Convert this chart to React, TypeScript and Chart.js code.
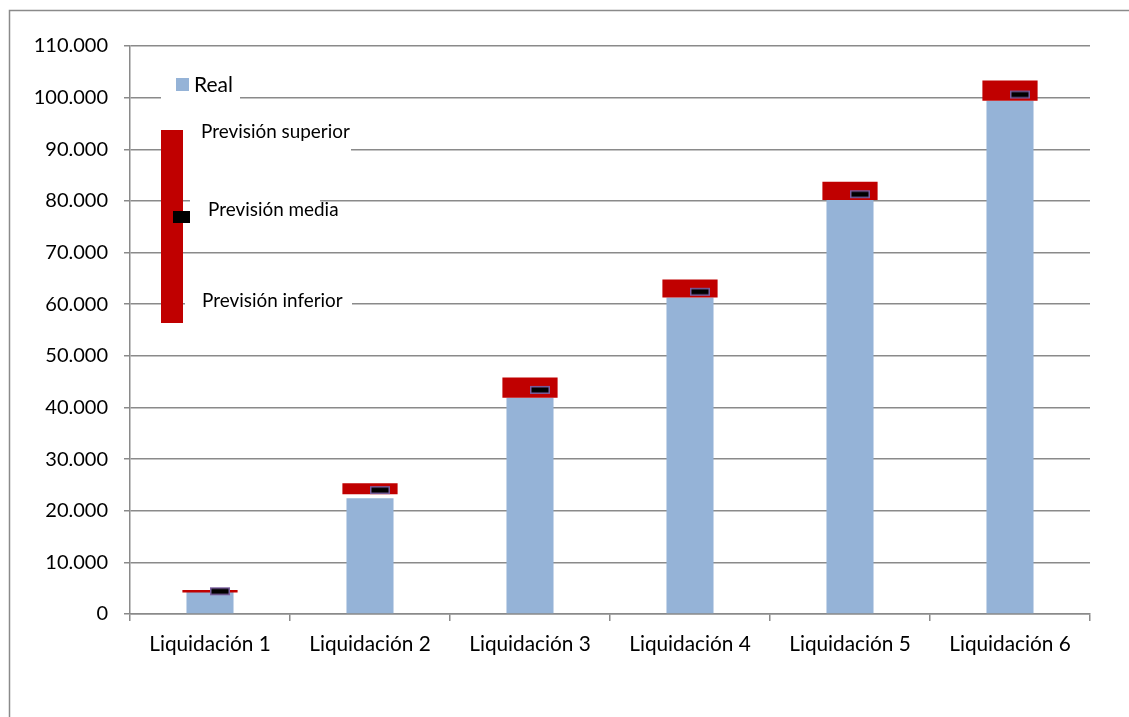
import React, { useEffect, useRef } from "react";
import { Chart, registerables } from "chart.js";

Chart.register(...registerables);

const categories = ["Liquidación 1", "Liquidación 2", "Liquidación 3", "Liquidación 4", "Liquidación 5", "Liquidación 6"];
const realValues = [4300, 22400, 41900, 61300, 80200, 99400];
const forecastLow = [4150, 23200, 41900, 61300, 80200, 99400];
const forecastHigh = [4650, 25300, 45800, 64800, 83700, 103300];
const forecastMean = [4400, 24000, 43400, 62400, 81300, 100600];
const yMin = 0;
const yMax = 110000;
const yStep = 10000;

const FONT = "Lato, 'Noto Sans', sans-serif";
const GRID = "#8a8a8a";

function fmt(v: number): string {
  return String(v).replace(/\B(?=(\d{3})+(?!\d))/g, ".");
}

function makeMarker(): HTMLCanvasElement {
  const c = document.createElement("canvas");
  c.width = 42;
  c.height = 10;
  const g = c.getContext("2d")!;
  g.fillStyle = "#000";
  g.fillRect(21, 1, 20, 8);
  g.strokeStyle = "#7a5e9e";
  g.lineWidth = 1.5;
  g.strokeRect(21.75, 1.75, 18.5, 6.5);
  return c;
}

const framePlugin = {
  id: "frame",
  beforeDraw(chart: any) {
    const ctx = chart.ctx;
    ctx.save();
    ctx.fillStyle = "#fff";
    ctx.fillRect(0, 0, chart.width, chart.height);
    ctx.strokeStyle = "#8a8a8a";
    ctx.lineWidth = 1.5;
    ctx.beginPath();
    ctx.moveTo(9.5, chart.height);
    ctx.lineTo(9.5, 10.5);
    ctx.lineTo(chart.width, 10.5);
    ctx.stroke();
    ctx.restore();
  },
};

const legendPlugin = {
  id: "customLegend",
  afterDraw(chart: any) {
    const ctx = chart.ctx;
    ctx.save();
    ctx.fillStyle = "#fff";
    ctx.fillRect(161, 72, 79, 30);
    ctx.fillRect(183, 114, 168, 38);
    ctx.fillRect(190, 193, 130, 33);
    ctx.fillRect(185, 286, 167, 26);

    ctx.fillStyle = "#95B3D7";
    ctx.fillRect(176, 78, 13, 13);
    ctx.fillStyle = "#000";
    ctx.textBaseline = "middle";
    ctx.textAlign = "left";
    ctx.font = `21px ${FONT}`;
    ctx.fillText("Real", 194, 85);

    ctx.fillStyle = "#C00000";
    ctx.fillRect(161, 130, 22, 193);
    ctx.fillStyle = "#000";
    ctx.fillRect(173, 211, 17, 12);

    ctx.font = `18.9px ${FONT}`;
    ctx.fillText("Previsión superior", 201, 132);
    ctx.fillText("Previsión media", 208, 210);
    ctx.fillText("Previsión inferior", 202, 301);
    ctx.restore();
  },
};

export default function App() {
  const ref = useRef<HTMLCanvasElement | null>(null);

  useEffect(() => {
    if (!ref.current) return;
    const marker = makeMarker();
    const chart = new Chart(ref.current, {
      type: "bar",
      data: {
        labels: categories,
        datasets: [
          {
            type: "line",
            label: "Previsión media",
            data: forecastMean,
            showLine: false,
            pointStyle: marker as any,
            pointRadius: 10,
            order: 0,
          } as any,
          {
            type: "bar",
            label: "Previsión",
            data: forecastLow.map((lo, i) => [lo, forecastHigh[i]]),
            backgroundColor: "#C00000",
            borderWidth: 0,
            grouped: false,
            categoryPercentage: 1,
            barPercentage: 0.345,
            order: 1,
          } as any,
          {
            type: "bar",
            label: "Real",
            data: realValues,
            backgroundColor: "#95B3D7",
            borderWidth: 0,
            grouped: false,
            categoryPercentage: 1,
            barPercentage: 0.294,
            order: 2,
          } as any,
        ],
      },
      options: {
        responsive: false,
        animation: false,
        devicePixelRatio: 1,
        layout: { padding: { left: 0, top: 46, right: 39, bottom: 0 } },
        plugins: {
          legend: { display: false },
          title: { display: false },
          tooltip: { enabled: false },
        },
        scales: {
          x: {
            offset: true,
            grid: {
              drawOnChartArea: false,
              drawTicks: true,
              tickLength: 7,
              color: GRID,
              tickColor: GRID,
              lineWidth: 1.5,
              offset: true,
            },
            border: { display: true, color: GRID, width: 1.5 },
            ticks: {
              color: "#000",
              font: { family: FONT, size: 20.8 },
              padding: 11,
              maxRotation: 0,
              autoSkip: false,
            },
            afterFit: (s: any) => {
              s.height = 103;
            },
          },
          y: {
            min: yMin,
            max: yMax,
            grid: {
              color: GRID,
              tickColor: GRID,
              tickLength: 6,
              lineWidth: 1.5,
            },
            border: { display: true, color: GRID, width: 1.5 },
            ticks: {
              stepSize: yStep,
              color: "#000",
              font: { family: FONT, size: 20 },
              padding: 16,
              callback: (v: any) => fmt(Number(v)),
            },
            afterFit: (s: any) => {
              s.width = 130;
            },
          },
        },
      },
      plugins: [framePlugin, legendPlugin],
    });
    return () => chart.destroy();
  }, []);

  return (
    <div style={{ position: "fixed", left: 0, top: 0, width: 1129, height: 717, background: "#fff" }}>
      <canvas ref={ref} width={1129} height={717} style={{ width: 1129, height: 717, display: "block" }} />
    </div>
  );
}
